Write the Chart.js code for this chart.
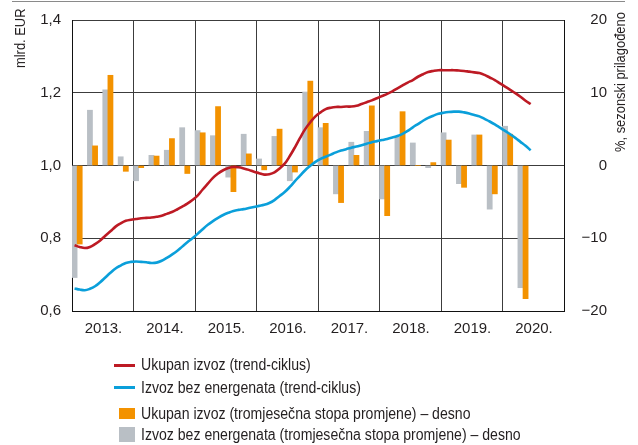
<!DOCTYPE html>
<html>
<head>
<meta charset="utf-8">
<script src="https://cdn.jsdelivr.net/npm/chart.js@4.4.1/dist/chart.umd.min.js"></script>
<style>
  html, body { margin: 0; padding: 0; background: #fff; }
  #wrap { position: relative; width: 638px; height: 445px; overflow: hidden; background: #fff; }
  #c { position: absolute; left: 0; top: 0; }
  .topline { position: absolute; left: 12px; top: 1px; width: 613px; height: 0; border-top: 1px solid #8a8a8a; }
  .title { position: absolute; white-space: nowrap; font-family: "Liberation Sans", Arial, sans-serif; font-size: 15px; line-height: 17px; height: 17px; color: #231f20; transform-origin: 0 0; transform: rotate(-90deg) scaleX(0.86); }
  .leg { position: absolute; font-family: "Liberation Sans", Arial, sans-serif; font-size: 16px; color: #231f20; white-space: nowrap; line-height: 20px; transform-origin: 0 50%; transform: scaleX(0.88); }
  .sw { position: absolute; }
</style>
</head>
<body>
<div id="wrap">
  <canvas id="c" width="638" height="445"></canvas>
  <div class="topline"></div>
  <div class="title" id="tl" style="left:11px; top:68px;">mlrd. EUR</div>
  <div class="title" id="tr" style="left:611px; top:152px;">%, sezonski prilagođeno</div>
  <div id="legend"></div>
</div>
<script>
// ---- data ----
const years = ['2013.', '2014.', '2015.', '2016.', '2017.', '2018.', '2019.', '2020.'];

// Trend-cycle, monthly, Jan 2013 - Jun 2020 (mlrd. EUR, left axis)
const ukupanIzvozTrend = [
  0.781, 0.776, 0.773, 0.776, 0.784, 0.794, 0.807, 0.819, 0.832, 0.841, 0.848, 0.851,
  0.853, 0.855, 0.856, 0.857, 0.859, 0.862, 0.867, 0.872, 0.879, 0.887, 0.895, 0.905,
  0.917, 0.934, 0.950, 0.966, 0.978, 0.987, 0.993, 0.996, 0.995, 0.992, 0.988, 0.983,
  0.979, 0.975, 0.976, 0.981, 0.992, 1.005, 1.026, 1.050, 1.076, 1.100, 1.119, 1.135,
  1.146, 1.155, 1.159, 1.161, 1.161, 1.162, 1.162, 1.164, 1.169, 1.174, 1.179, 1.185,
  1.191, 1.197, 1.204, 1.212, 1.220, 1.228, 1.235, 1.244, 1.251, 1.257, 1.260, 1.262,
  1.262, 1.262, 1.262, 1.261, 1.260, 1.258, 1.256, 1.254, 1.249, 1.242, 1.235, 1.226,
  1.217, 1.208, 1.199, 1.189, 1.178, 1.169
];
const bezEnergenataTrend = [
  0.662, 0.659, 0.657, 0.661, 0.668, 0.679, 0.692, 0.705, 0.717, 0.725, 0.732, 0.735,
  0.736, 0.735, 0.734, 0.732, 0.733, 0.738, 0.746, 0.755, 0.765, 0.777, 0.789, 0.800,
  0.812, 0.825, 0.837, 0.847, 0.856, 0.864, 0.870, 0.875, 0.878, 0.880, 0.883, 0.886,
  0.889, 0.892, 0.897, 0.905, 0.916, 0.927, 0.941, 0.957, 0.972, 0.987, 0.999, 1.010,
  1.018, 1.024, 1.030, 1.036, 1.041, 1.045, 1.049, 1.052, 1.056, 1.060, 1.064, 1.067,
  1.070, 1.073, 1.077, 1.081, 1.087, 1.095, 1.105, 1.114, 1.123, 1.131, 1.137, 1.142,
  1.145, 1.147, 1.148, 1.148, 1.146, 1.143, 1.139, 1.135, 1.128, 1.121, 1.113, 1.104,
  1.095, 1.086, 1.076, 1.065, 1.054, 1.042
];

// Three-month rates of change, quarterly, 2013 Q1 - 2020 Q2 (%, right axis)
const ukupanIzvozStopa = [
  -10.8, 2.7, 12.4, -0.8,
  -0.3, 1.3, 3.7, -1.1,
  4.5, 8.1, -3.6, 1.6,
  -0.6, 5.0, -0.9, 11.6,
  5.8, -5.1, 1.4, 8.2,
  -6.9, 7.4, 0.0, 0.4,
  3.5, -3.0, 4.2, -3.9,
  4.3, -18.3
];
const bezEnergenataStopa = [
  -15.4, 7.6, 10.4, 1.2,
  -2.1, 1.4, 2.1, 5.2,
  4.8, 4.1, -1.6, 4.3,
  0.9, 4.0, -2.1, 10.1,
  5.2, -3.9, 3.2, 4.7,
  -4.6, 3.9, 3.1, -0.3,
  4.5, -2.5, 4.2, -6.0,
  5.4, -16.8
];

const leftTicks = [0.6, 0.8, 1.0, 1.2, 1.4];
const rightTicks = [-20, -10, 0, 10, 20];

const legendLabels = [
  'Ukupan izvoz (trend-ciklus)',
  'Izvoz bez energenata (trend-ciklus)',
  'Ukupan izvoz (tromjesečna stopa promjene) – desno',
  'Izvoz bez energenata (tromjesečna stopa promjene) – desno'
];

// ---- build tables for the library ----
const monthLabels = [];
years.forEach(y => { for (let m = 1; m <= 12; m++) monthLabels.push(y + m); });
const orangeMonthly = new Array(monthLabels.length).fill(null);
const greyMonthly = new Array(monthLabels.length).fill(null);
ukupanIzvozStopa.forEach((v, q) => { orangeMonthly[q * 3 + 1] = v; });
bezEnergenataStopa.forEach((v, q) => { greyMonthly[q * 3] = v; });

const RED = '#bd1a24', BLUE = '#0a9fda', ORANGE = '#f39200', GREY = '#b9bfc5';
const GRID = '#3c3c3c', TEXT = '#231f20';
const tickFont = { family: '"Liberation Sans", Arial, sans-serif', size: 15 };

new Chart(document.getElementById('c'), {
  type: 'bar',
  data: {
    labels: monthLabels,
    datasets: [
      { type: 'line', label: legendLabels[0], data: ukupanIzvozTrend, yAxisID: 'y', borderColor: RED, borderWidth: 2.6, pointRadius: 0, tension: 0.4, fill: false, order: 0 },
      { type: 'line', label: legendLabels[1], data: bezEnergenataTrend, yAxisID: 'y', borderColor: BLUE, borderWidth: 2.6, pointRadius: 0, tension: 0.4, fill: false, order: 0 },
      { type: 'bar', label: legendLabels[2], data: orangeMonthly, yAxisID: 'y1', backgroundColor: ORANGE, grouped: false, barPercentage: 1, categoryPercentage: 1, order: 1 },
      { type: 'bar', label: legendLabels[3], data: greyMonthly, yAxisID: 'y1', backgroundColor: GREY, grouped: false, barPercentage: 1, categoryPercentage: 1, order: 2 }
    ]
  },
  options: {
    responsive: false,
    animation: false,
    devicePixelRatio: 1,
    layout: { padding: { top: 16, right: 31, bottom: 104, left: 0 } },
    plugins: { legend: { display: false }, tooltip: { enabled: false } },
    scales: {
      x: {
        type: 'category',
        offset: true,
        grid: {
          offset: true, drawTicks: false, lineWidth: 1,
          color: ctx => (ctx.index % 12 === 0 ? GRID : 'rgba(0,0,0,0)')
        },
        border: { display: true, color: '#111', width: 1 },
        ticks: {
          autoSkip: false, maxRotation: 0, minRotation: 0, padding: 9, labelOffset: -1.8,
          color: TEXT, font: tickFont,
          callback: (v, i) => (i % 12 === 6 ? years[Math.floor(i / 12)] : '')
        },
        afterFit: s => { s.height = 30; }
      },
      y: {
        position: 'left',
        min: 0.6, max: 1.4,
        afterBuildTicks: s => { s.ticks = leftTicks.map(v => ({ value: v })); },
        grid: { color: GRID, drawTicks: false, lineWidth: 1 },
        border: { display: true, color: '#111', width: 1 },
        ticks: { padding: 11, color: TEXT, font: tickFont, callback: v => Number(v).toFixed(1).replace('.', ',') },
        afterFit: s => { s.width = 72; }
      },
      y1: {
        position: 'right',
        min: -20, max: 20,
        afterBuildTicks: s => { s.ticks = rightTicks.map(v => ({ value: v })); },
        grid: { drawOnChartArea: false, drawTicks: false },
        border: { display: true, color: '#111', width: 1 },
        ticks: { crossAlign: 'far', padding: 9, color: TEXT, font: tickFont, callback: v => (v < 0 ? '\u2212' + Math.abs(v) : String(v)) },
        afterFit: s => { s.width = 43; }
      }
    }
  }
});

// ---- legend (HTML text) ----
const leg = document.getElementById('legend');
const legendRows = [
  { y: 365, kind: 'line', color: RED },
  { y: 387.7, kind: 'line', color: BLUE },
  { y: 413.5, kind: 'box', color: ORANGE, h: 11 },
  { y: 434.5, kind: 'box', color: GREY, h: 15 }
];
legendRows.forEach((r, i) => {
  const sw = document.createElement('div');
  sw.className = 'sw';
  if (r.kind === 'line') {
    sw.style.cssText = `left:114px; top:${r.y - 1.5}px; width:21px; height:3px; background:${r.color};`;
  } else {
    sw.style.cssText = `left:119px; top:${r.y - r.h / 2}px; width:16px; height:${r.h}px; background:${r.color};`;
  }
  leg.appendChild(sw);
  const t = document.createElement('div');
  t.className = 'leg';
  t.style.left = '141px';
  t.style.top = (r.y - 10) + 'px';
  t.textContent = legendLabels[i];
  leg.appendChild(t);
});
</script>
</body>
</html>
